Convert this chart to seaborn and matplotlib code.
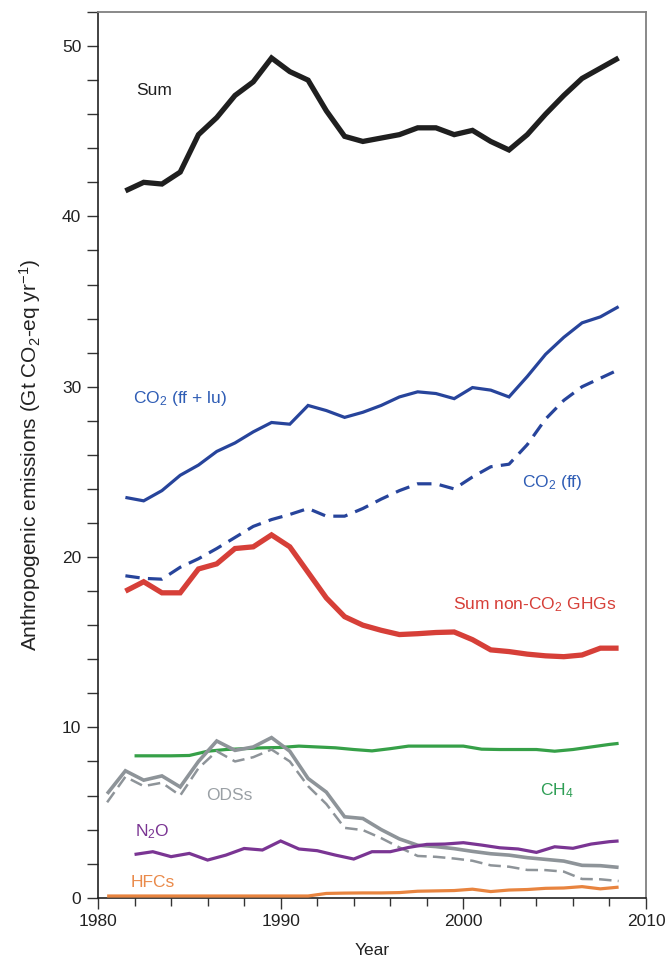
import numpy as np
import pandas as pd
import matplotlib
matplotlib.use("Agg")
import matplotlib.pyplot as plt
from matplotlib.ticker import MultipleLocator
import seaborn as sns

# ---------------- data ----------------
main_years = np.arange(1981.5, 2009.0, 1.0)          # 28 points
ods_years = np.arange(1980.5, 2009.0, 1.0)           # 29 points
gas_years = list(range(1982, 2009)) + [2008.5]       # 28 points

sum_total = [41.5, 42.0, 41.9, 42.6, 44.8, 45.8, 47.1, 47.9, 49.3, 48.5, 48.0, 46.2,
             44.7, 44.4, 44.6, 44.8, 45.2, 45.2, 44.8, 45.05, 44.4, 43.9, 44.8, 46.0,
             47.1, 48.1, 48.7, 49.3]
co2_fflu = [23.5, 23.3, 23.9, 24.8, 25.4, 26.2, 26.7, 27.35, 27.9, 27.8, 28.9, 28.6,
            28.2, 28.5, 28.9, 29.4, 29.7, 29.6, 29.3, 29.95, 29.8, 29.4, 30.6, 31.9,
            32.9, 33.75, 34.1, 34.7]
co2_ff = [18.9, 18.75, 18.7, 19.4, 19.9, 20.5, 21.15, 21.8, 22.2, 22.5, 22.85, 22.4,
          22.4, 22.85, 23.4, 23.9, 24.3, 24.3, 24.0, 24.7, 25.3, 25.45, 26.6, 28.1,
          29.2, 30.0, 30.5, 31.0]
non_co2 = [18.0, 18.55, 17.9, 17.9, 19.3, 19.6, 20.5, 20.6, 21.3, 20.6, 19.1, 17.6,
           16.5, 16.0, 15.7, 15.45, 15.5, 15.57, 15.6, 15.15, 14.55, 14.45, 14.3, 14.2,
           14.15, 14.25, 14.65, 14.65]
ch4 = [8.33, 8.33, 8.33, 8.35, 8.6, 8.7, 8.75, 8.8, 8.82, 8.9, 8.85, 8.8, 8.7, 8.62,
       8.75, 8.9, 8.9, 8.9, 8.9, 8.72, 8.7, 8.7, 8.7, 8.6, 8.7, 8.85, 9.0, 9.06]
n2o = [2.54, 2.7, 2.41, 2.6, 2.21, 2.5, 2.89, 2.8, 3.33, 2.86, 2.76, 2.5, 2.27, 2.7,
       2.7, 2.95, 3.13, 3.15, 3.23, 3.09, 2.93, 2.86, 2.66, 2.99, 2.9, 3.15, 3.29, 3.33]
ods = [6.1, 7.45, 6.9, 7.15, 6.5, 8.0, 9.2, 8.65, 8.85, 9.4, 8.6, 7.0, 6.2, 4.75,
       4.65, 4.0, 3.45, 3.08, 3.0, 2.88, 2.72, 2.58, 2.5, 2.35, 2.25, 2.15, 1.9, 1.88, 1.78]
ods_alt = [5.6, 7.1, 6.55, 6.75, 6.0, 7.6, 8.6, 8.0, 8.25, 8.7, 8.0, 6.55, 5.5, 4.1,
           3.97, 3.5, 2.95, 2.45, 2.4, 2.3, 2.17, 1.9, 1.82, 1.63, 1.62, 1.53, 1.1, 1.08, 0.98]
hfcs = [0.1, 0.1, 0.1, 0.1, 0.1, 0.1, 0.1, 0.1, 0.1, 0.1, 0.1, 0.1, 0.25, 0.27, 0.28,
        0.28, 0.3, 0.38, 0.4, 0.42, 0.5, 0.36, 0.45, 0.48, 0.55, 0.57, 0.65, 0.52, 0.62]

x_ticks = [1980, 1990, 2000, 2010]
y_ticks = [0, 10, 20, 30, 40, 50]

# ---------------- style ----------------
sns.set_theme(style="ticks")
plt.rcParams['font.family'] = ['Liberation Sans', 'DejaVu Sans']
plt.rcParams['mathtext.fontset'] = 'custom'
plt.rcParams['mathtext.rm'] = 'Liberation Sans'
plt.rcParams['mathtext.it'] = 'Liberation Sans:italic'
plt.rcParams['mathtext.bf'] = 'Liberation Sans:bold'

fig = plt.figure(figsize=(6.69, 9.63), dpi=100)
ax = fig.add_axes([98 / 669, 1 - 897.7 / 963, (646 - 98) / 669, (897.7 - 12) / 963])

def line(x, y, color, lw, ls='-', z=2):
    sns.lineplot(x=list(x), y=y, ax=ax, color=color, linewidth=lw, linestyle=ls,
                 zorder=z, solid_joinstyle='miter', solid_capstyle='butt')

line(main_years, sum_total, '#1f1f1f', 3.8, z=5)
line(main_years, co2_fflu, '#27449b', 2.3, z=4)
line(main_years, co2_ff, '#27449b', 2.3, ls=(0, (4.5, 2.6)), z=4)
line(main_years, non_co2, '#d63f38', 3.8, z=4)
line(gas_years, ch4, '#36a048', 2.3, z=3)
line(ods_years, ods_alt, '#8e9499', 1.8, ls=(0, (5, 2.5)), z=3)
line(ods_years, ods, '#8e9499', 2.6, z=3)
line(gas_years, n2o, '#7a3593', 2.3, z=3)
line(ods_years, hfcs, '#e8843f', 2.3, z=3)

ax.set_xlim(1980, 2010)
ax.set_ylim(0, 52)
ax.set_xticks(x_ticks)
ax.set_yticks(y_ticks)
ax.xaxis.set_minor_locator(MultipleLocator(2))
ax.yaxis.set_minor_locator(MultipleLocator(2))
ax.tick_params(axis='both', which='major', direction='out', length=8, width=1.0,
               color='#333333', labelsize=12.5, labelcolor='#222222', pad=4)
ax.tick_params(axis='x', which='minor', direction='out', length=6, width=1.0, color='#333333')
ax.tick_params(axis='y', which='minor', direction='out', length=8, width=1.0, color='#333333')

for s in ['left', 'bottom']:
    ax.spines[s].set_color('#222222')
    ax.spines[s].set_linewidth(1.2)
for s in ['top', 'right']:
    ax.spines[s].set_color('#808080')
    ax.spines[s].set_linewidth(1.3)

ax.set_xlabel('Year', fontsize=12.5, color='#222222', labelpad=10)
ax.set_ylabel('Anthropogenic emissions (Gt CO$_2$-eq yr$^{-1}$)', fontsize=15,
              color='#222222', labelpad=14)

fs = 12.5
ax.text(1982.1, 47.4, 'Sum', color='#1f1f1f', fontsize=fs, va='center', ha='left')
ax.text(1981.9, 29.3, 'CO$_2$ (ff + lu)', color='#2f5db5', fontsize=fs, va='center', ha='left')
ax.text(2003.2, 24.4, 'CO$_2$ (ff)', color='#2f5db5', fontsize=fs, va='center', ha='left')
ax.text(2008.4, 17.2, 'Sum non-CO$_2$ GHGs', color='#d63f38', fontsize=fs, va='center', ha='right')
ax.text(2004.2, 6.3, 'CH$_4$', color='#2e9e55', fontsize=fs, va='center', ha='left')
ax.text(1985.9, 6.0, 'ODSs', color='#9aa0a5', fontsize=fs, va='center', ha='left')
ax.text(1982.0, 3.85, 'N$_2$O', color='#7a3593', fontsize=fs, va='center', ha='left')
ax.text(1981.8, 0.9, 'HFCs', color='#ea8a4a', fontsize=fs, va='center', ha='left')

fig.savefig('out.png', dpi=100)
